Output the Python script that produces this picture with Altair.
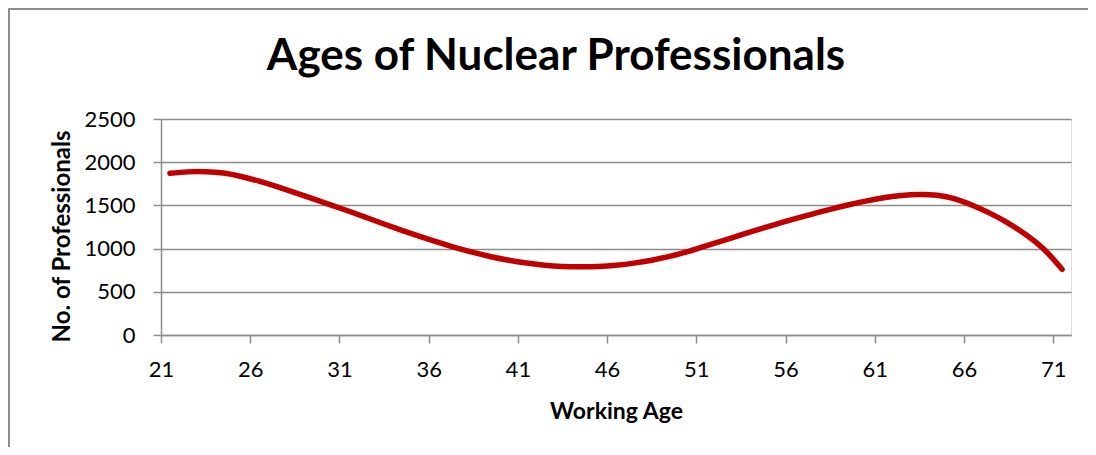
import altair as alt
import pandas as pd

ages = list(range(21, 72))
professionals = [
    1872, 1888, 1890, 1875, 1835, 1780, 1716, 1648, 1578, 1507,
    1435, 1360, 1285, 1212, 1142, 1075, 1012, 956, 906, 865,
    833, 808, 794, 790, 794, 808, 832, 866, 910, 965,
    1030, 1093, 1158, 1222, 1284, 1344, 1400, 1455, 1505, 1550,
    1588, 1614, 1627, 1617, 1575, 1498, 1405, 1292, 1158, 990,
    760,
]
x_tick_labels = [21, 26, 31, 36, 41, 46, 51, 56, 61, 66, 71]
y_tick_values = [0, 500, 1000, 1500, 2000, 2500]

df = pd.DataFrame({"age": ages, "count": professionals})

FONT = "Lato"
GRAY = "#8c8c8c"
W, H = 910, 216

line = alt.Chart(df).mark_line(
    color="#C00000", strokeWidth=5.5, strokeCap="round", interpolate="natural"
).encode(
    x=alt.X(
        "age:Q",
        scale=alt.Scale(domain=[20.5, 71.5], nice=False, zero=False),
        axis=alt.Axis(
            values=x_tick_labels,
            format="d",
            title="Working Age",
            grid=False,
            tickOffset=-8.9,
            tickSize=8,
            tickColor=GRAY,
            tickWidth=1.5,
            domainColor=GRAY,
            domainWidth=1.5,
            labelFont=FONT,
            labelFontSize=22,
            labelColor="#000000",
            labelBaseline="alphabetic",
            labelPadding=33,
            titleFont=FONT,
            titleFontSize=23,
            titleFontWeight="bold",
            titleColor="#000000",
            titleBaseline="alphabetic",
            titleX=W / 2,
            titleY=83,
        ),
    ),
    y=alt.Y(
        "count:Q",
        scale=alt.Scale(domain=[0, 2500], nice=False),
        axis=alt.Axis(
            values=y_tick_values,
            format="d",
            title="No. of Professionals",
            grid=True,
            gridColor=GRAY,
            gridWidth=1.5,
            tickSize=8,
            tickColor=GRAY,
            tickWidth=1.5,
            domainColor=GRAY,
            domainWidth=1.5,
            labelFont=FONT,
            labelFontSize=22,
            labelColor="#000000",
            labelPadding=18,
            titleFont=FONT,
            titleFontSize=24,
            titleFontWeight="bold",
            titleColor="#000000",
            titleAngle=270,
            titleAlign="center",
            titleBaseline="middle",
            titleX=-99,
            titleY=117,
        ),
    ),
)

frame_top = alt.Chart(df).mark_rule(color=GRAY, strokeWidth=1.5).encode(
    x=alt.value(-152.5), x2=alt.value(W + 20), y=alt.value(-110.5)
)
frame_left = alt.Chart(df).mark_rule(color=GRAY, strokeWidth=1.5).encode(
    x=alt.value(-152.5), y=alt.value(-110.5), y2=alt.value(H + 120)
)

chart = alt.layer(frame_top, frame_left, line).properties(
    width=W,
    height=H,
    title=alt.TitleParams(
        text="Ages of Nuclear Professionals",
        font=FONT,
        fontSize=44,
        fontWeight="bold",
        color="#000000",
        anchor="middle",
        frame="group",
        baseline="alphabetic",
        offset=0,
        dx=-60,
        dy=106,
    ),
    autosize=alt.AutoSizeParams(type="none"),
    padding={"left": 153, "top": 111, "right": 17, "bottom": 112},
).configure_view(stroke=None).configure(background="#ffffff")

chart.save("out.html", embed_options={"renderer": "svg", "actions": False})
